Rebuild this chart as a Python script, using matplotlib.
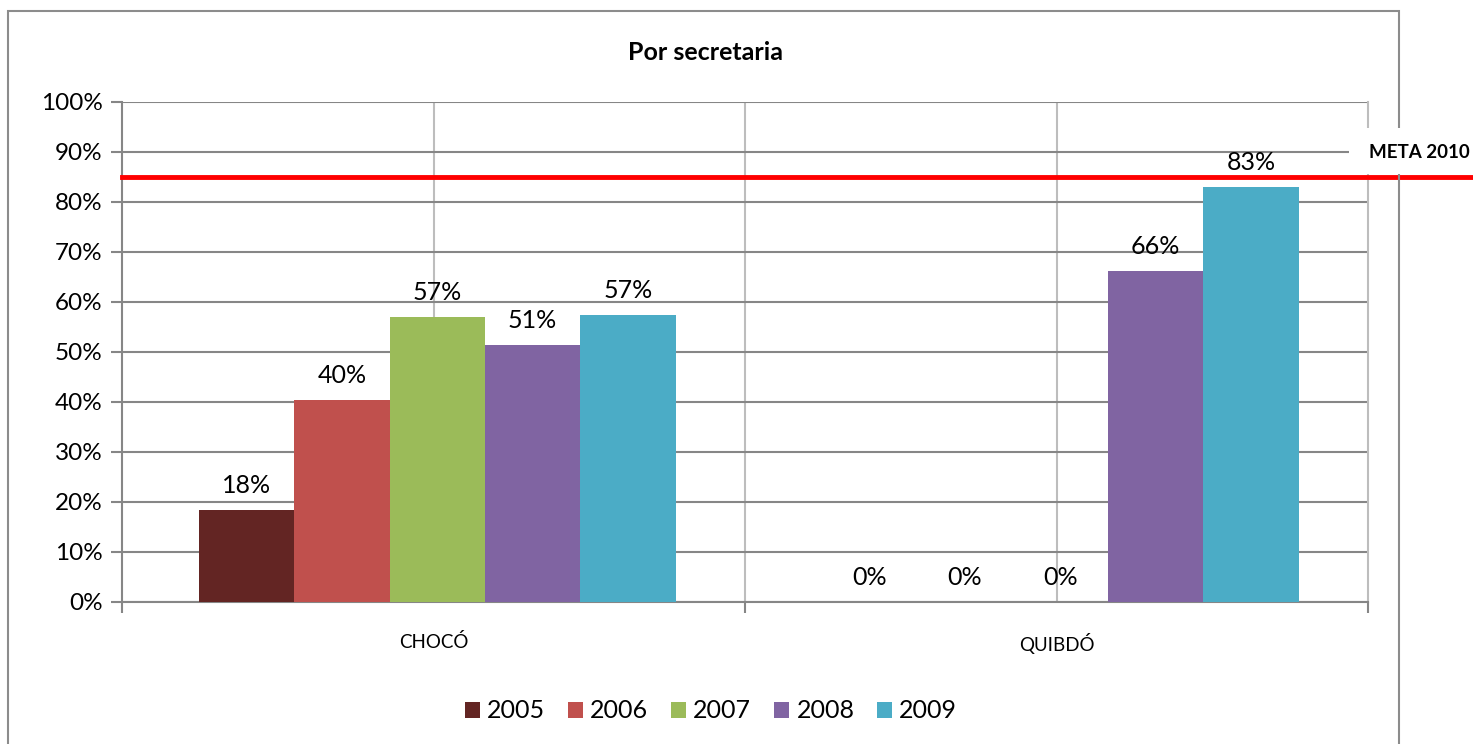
import numpy as np
import matplotlib.pyplot as plt
import matplotlib.patches as mpatches
import matplotlib.transforms as mtransforms
from matplotlib.ticker import PercentFormatter

plt.rcParams['font.family'] = ['Lato', 'DejaVu Sans']

# datos
categorias = ['CHOCÓ', 'QUIBDÓ']
anios = ['2005', '2006', '2007', '2008', '2009']
valores = {
    '2005': [0.184, 0.0],
    '2006': [0.404, 0.0],
    '2007': [0.570, 0.0],
    '2008': [0.514, 0.662],
    '2009': [0.574, 0.830],
}
colores = ['#632523', '#C0504D', '#9BBB59', '#8064A2', '#4BACC6']
meta = 0.85

fig = plt.figure(figsize=(14.73, 7.44), dpi=100)
ax = fig.add_axes([122/1473, 1 - 602/744, 1246/1473, 500/744])

# marco del grafico
fig.patches.append(mpatches.Rectangle((8/1473, -0.05), 1391/1473, 1.05 - 11/744,
                                      transform=fig.transFigure, fill=False,
                                      edgecolor='#8c8c8c', linewidth=1.5))

x = np.arange(len(categorias))
ancho = 0.153
for i, a in enumerate(anios):
    pos = x + 0.006 + (i - 2) * ancho
    ax.bar(pos, valores[a], ancho, color=colores[i], label=a, zorder=3)
    for p, v in zip(pos, valores[a]):
        ax.text(p, v + 0.026, '{:.0f}%'.format(v * 100), ha='center', va='bottom',
                fontsize=18, zorder=4)

ax.set_xlim(-0.5, 1.5)
ax.set_ylim(0, 1.0)
ax.yaxis.set_major_locator(plt.MultipleLocator(0.1))
ax.yaxis.set_major_formatter(PercentFormatter(1.0, decimals=0))
ax.set_xticks([-0.5, 0.5, 1.5])
ax.set_xticklabels([])
ax.set_xticks(x, minor=True)
ax.set_xticklabels(categorias, minor=True)
ax.tick_params(axis='x', which='minor', length=0, pad=22, labelsize=13.5)
ax.tick_params(axis='x', which='major', length=8, width=1.5, color='#868686')
ax.tick_params(axis='y', length=8, width=1.5, color='#868686', labelsize=17.5, pad=6)

ax.grid(axis='y', color='#868686', linewidth=1.5, zorder=0)
for gx in [0, 0.5, 1]:
    ax.axvline(gx, color='#bdbdbd', linewidth=1.5, zorder=0)

for s in ['left', 'bottom']:
    ax.spines[s].set_color('#868686')
    ax.spines[s].set_linewidth(1.5)
ax.spines['right'].set_color('#bdbdbd')
ax.spines['right'].set_linewidth(1.5)
ax.spines['top'].set_visible(False)

# linea de meta
fig.patches.append(mpatches.Rectangle((1349/1473, 1 - 174/744), 124/1473, 46/744,
                                      transform=fig.transFigure, facecolor='white',
                                      edgecolor='none', zorder=5))
trans = mtransforms.blended_transform_factory(ax.transAxes, ax.transData)
fig.text(1369/1473, 1 - 152/744, 'META 2010', ha='left', va='center',
         fontsize=13.5, fontweight='bold', zorder=6)
ax.plot([0, 1.1], [meta, meta], color='#ff0000', linewidth=3.5, transform=trans,
        clip_on=False, zorder=6)

fig.text(705/1473, 1 - 52/744, 'Por secretaria', ha='center', va='center',
         fontsize=18, fontweight='bold')

ax.legend(loc='center', bbox_to_anchor=(711/1473, 1 - 711/744),
          bbox_transform=fig.transFigure, ncol=5, frameon=False, fontsize=18,
          handlelength=0.6, handleheight=0.6, handletextpad=0.3, columnspacing=0.9)

fig.savefig('out.png', dpi=100)
